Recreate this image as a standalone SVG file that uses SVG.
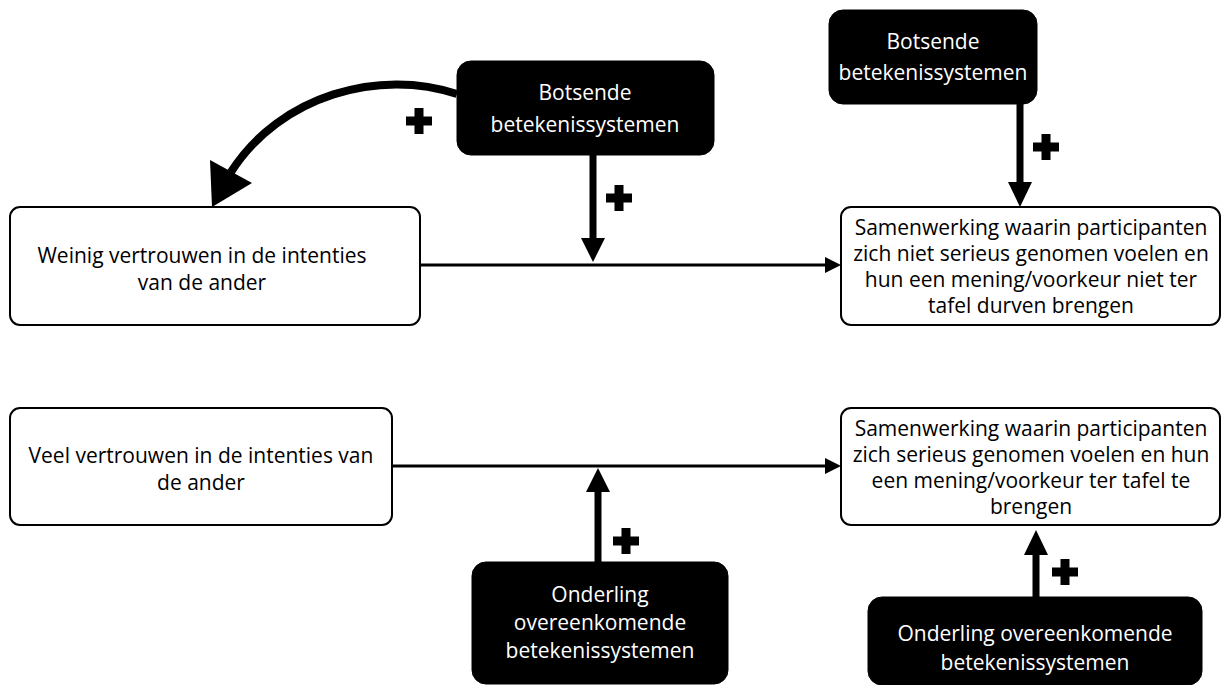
<svg xmlns="http://www.w3.org/2000/svg" width="1222" height="685" viewBox="0 0 1222 685">
<style>
.wb{fill:#fff;stroke:#000;stroke-width:2}
.bb{fill:#000;stroke:#000;stroke-width:1}
text{font-family:"Open Sans","Liberation Sans",sans-serif;font-size:21px;text-anchor:middle}
.tw{fill:#fff}
.tk{fill:#000}
.ln{stroke:#000;fill:none}
</style>
<defs>
<path id="plus" d="M-4.5,-13h9v8.5h8.5v9h-8.5v8.5h-9v-8.5h-8.5v-9h8.5z" fill="#000"/>
</defs>
<rect width="1222" height="685" fill="#fff"/>
<g id="connectors">
<line class="ln" x1="420" y1="265" x2="826" y2="265" stroke-width="3"/>
<polygon points="841,265 825,257 825,273"/>
<line class="ln" x1="593" y1="155" x2="593" y2="240" stroke-width="7"/>
<polygon points="593,262 581,238 605,238"/>
<line class="ln" x1="1020" y1="104" x2="1020" y2="184" stroke-width="7"/>
<polygon points="1020,207 1008,182 1032,182"/>
<path class="ln" d="M457,94 C380,68 280,95 231,172" stroke-width="8"/>
<polygon points="212,207 210,160 252,183"/>
<line class="ln" x1="392" y1="466" x2="826" y2="466" stroke-width="3"/>
<polygon points="841,466 825,458 825,474"/>
<line class="ln" x1="598" y1="562" x2="598" y2="490" stroke-width="7"/>
<polygon points="598,468 586,492 610,492"/>
<line class="ln" x1="1036" y1="597" x2="1036" y2="553" stroke-width="7"/>
<polygon points="1036,530 1024,555 1048,555"/>
<use href="#plus" x="419" y="121"/>
<use href="#plus" x="619" y="198"/>
<use href="#plus" x="1046" y="147"/>
<use href="#plus" x="626" y="541"/>
<use href="#plus" x="1065" y="572"/>
</g>
<g id="weinig">
<rect class="wb" x="10" y="207" width="410" height="118" rx="10"/>
<text class="tk" x="202" y="263">Weinig vertrouwen in de intenties</text>
<text class="tk" x="202" y="290">van de ander</text>
</g>
<g id="botsende1">
<rect class="bb" x="457" y="61" width="257" height="94" rx="14"/>
<text class="tw" x="585" y="100">Botsende</text>
<text class="tw" x="585" y="132">betekenissystemen</text>
</g>
<g id="botsende2">
<rect class="bb" x="829" y="10" width="208" height="94" rx="14"/>
<text class="tw" x="933" y="49">Botsende</text>
<text class="tw" x="933" y="80">betekenissystemen</text>
</g>
<g id="samenwerking-niet">
<rect class="wb" x="841" y="207" width="379" height="118" rx="10"/>
<text class="tk" x="1031" y="235">Samenwerking waarin participanten</text>
<text class="tk" x="1031" y="261">zich niet serieus genomen voelen en</text>
<text class="tk" x="1031" y="287">hun een mening/voorkeur niet ter</text>
<text class="tk" x="1031" y="313">tafel durven brengen</text>
</g>
<g id="veel">
<rect class="wb" x="10" y="408" width="382" height="117" rx="10"/>
<text class="tk" x="201" y="463">Veel vertrouwen in de intenties van</text>
<text class="tk" x="201" y="490">de ander</text>
</g>
<g id="samenwerking-wel">
<rect class="wb" x="841" y="408" width="379" height="117" rx="10"/>
<text class="tk" x="1031" y="436">Samenwerking waarin participanten</text>
<text class="tk" x="1031" y="462">zich serieus genomen voelen en hun</text>
<text class="tk" x="1031" y="488">een mening/voorkeur ter tafel te</text>
<text class="tk" x="1031" y="514">brengen</text>
</g>
<g id="onderling1">
<rect class="bb" x="472" y="562" width="256" height="122" rx="14"/>
<text class="tw" x="600" y="602">Onderling</text>
<text class="tw" x="600" y="630">overeenkomende</text>
<text class="tw" x="600" y="658">betekenissystemen</text>
</g>
<g id="onderling2">
<rect class="bb" x="868" y="597" width="334" height="88" rx="14"/>
<text class="tw" x="1035" y="641">Onderling overeenkomende</text>
<text class="tw" x="1035" y="670">betekenissystemen</text>
</g>
</svg>
